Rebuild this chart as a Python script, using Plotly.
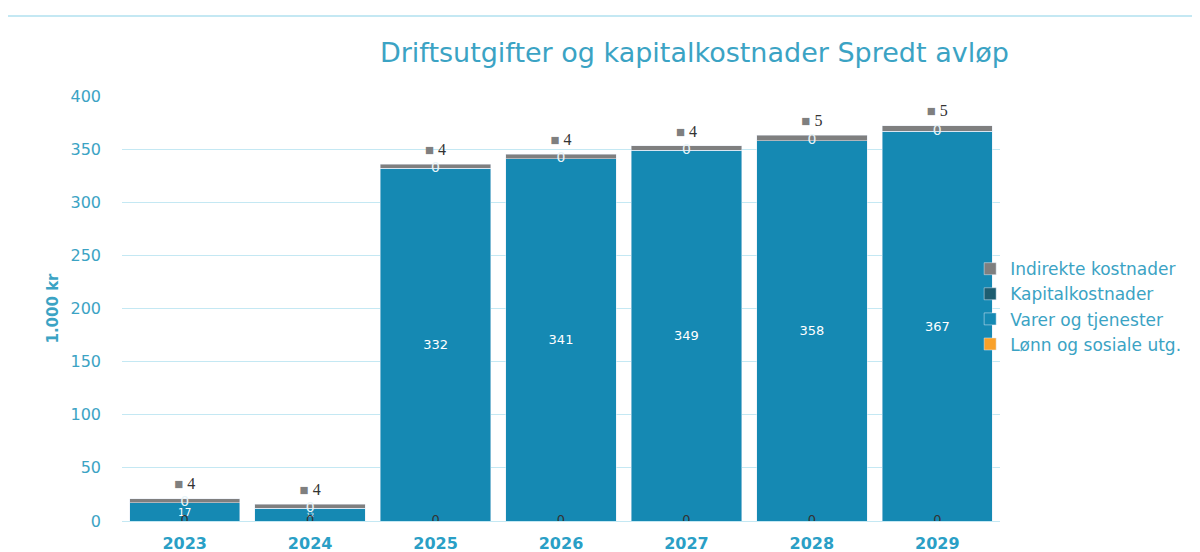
import plotly.graph_objects as go

# Data (1.000 kr)
years = ["2023", "2024", "2025", "2026", "2027", "2028", "2029"]
lonn = [0, 0, 0, 0, 0, 0, 0]
varer = [17, 12, 332, 341, 349, 358, 367]
kapital = [0, 0, 0, 0, 0, 0, 0]
indirekte = [4, 4, 4, 4, 4, 5, 5]

BLUE = "#1589b3"
TEAL = "#1e5d70"
GREY = "#7f7f7f"
ORANGE = "#f9a12a"
TXT = "#3ba3c4"
GRID = "#c4e8f3"
FONT = "DejaVu Sans"

fig = go.Figure()

# Stacked bars, each its own legend group so the gap can be widened
fig.add_trace(go.Bar(x=years, y=lonn, name="Lønn og sosiale utg.",
                     marker_color=ORANGE, hoverinfo="skip", legendgroup="a"))
fig.add_trace(go.Bar(x=years, y=varer, name="Varer og tjenester",
                     marker_color=BLUE, text=[str(v) for v in varer],
                     textposition="inside", insidetextanchor="middle",
                     textfont=dict(color="white", size=13, family=FONT),
                     hoverinfo="skip", legendgroup="b"))
fig.add_trace(go.Bar(x=years, y=kapital, name="Kapitalkostnader",
                     marker_color=TEAL, hoverinfo="skip", legendgroup="c"))
fig.add_trace(go.Bar(x=years, y=indirekte, name="Indirekte kostnader",
                     marker_color=GREY, hoverinfo="skip", legendgroup="d"))

# Labels for the zero-height series
cum_varer = [a + b for a, b in zip(lonn, varer)]
totals = [a + b + c + d for a, b, c, d in zip(lonn, varer, kapital, indirekte)]

fig.add_trace(go.Scatter(x=years, y=lonn, mode="text",
                         text=[str(v) for v in lonn], textposition="middle center",
                         textfont=dict(color="#333333", size=13, family=FONT),
                         showlegend=False, hoverinfo="skip"))
fig.add_trace(go.Scatter(x=years, y=cum_varer, mode="text",
                         text=[str(v) for v in kapital], textposition="middle center",
                         textfont=dict(color="#e8f4f8", size=14, family=FONT),
                         showlegend=False, hoverinfo="skip"))

# Indirekte kostnader labels above the bars, with legend key
# (an invisible marker pushes the text further up)
fig.add_trace(go.Scatter(x=years, y=totals, mode="markers+text",
                         marker=dict(size=7, opacity=0),
                         text=[f"<span style='color:{GREY};font-size:15px'>■</span> {v}" for v in indirekte],
                         textposition="top center",
                         textfont=dict(color="#333333", size=16, family="Liberation Serif"),
                         showlegend=False, hoverinfo="skip"))

fig.update_layout(
    barmode="stack",
    bargap=0.12,
    width=1200, height=552,
    paper_bgcolor="white", plot_bgcolor="white",
    font=dict(family=FONT, color=TXT),
    margin=dict(l=114, r=208, t=88, b=39, autoexpand=False),
    title=dict(text="Driftsutgifter og kapitalkostnader Spredt avløp",
               x=0.572, xanchor="center", y=0.92, yanchor="middle",
               font=dict(size=27, color=TXT, family=FONT)),
    legend=dict(x=0.966, y=0.635, xanchor="left", yanchor="top",
                traceorder="reversed", font=dict(size=17, color=TXT, family=FONT),
                itemwidth=30, tracegroupgap=21, bgcolor="rgba(0,0,0,0)"),
    shapes=[dict(type="line", xref="paper", yref="paper",
                 x0=-0.13, x1=1.25, y0=1.188, y1=1.188,
                 line=dict(color=GRID, width=2))],
)

fig.update_xaxes(type="category", automargin=False,
                 tickfont=dict(size=16, color="#2a9fc6", family=FONT),
                 showgrid=False, showline=False, ticks="",
                 tickprefix="<b>", ticksuffix="</b>", ticklabelstandoff=11)
fig.update_yaxes(range=[0, 400], dtick=50, showgrid=True, gridcolor=GRID,
                 zeroline=True, zerolinecolor=GRID, zerolinewidth=1,
                 tickfont=dict(size=16, color=TXT, family=FONT),
                 ticks="", ticklabelstandoff=20, automargin=False,
                 title=dict(text="<b>1.000 kr</b>", font=dict(size=15, color=TXT, family=FONT),
                            standoff=8))

fig.write_html("out.html")
